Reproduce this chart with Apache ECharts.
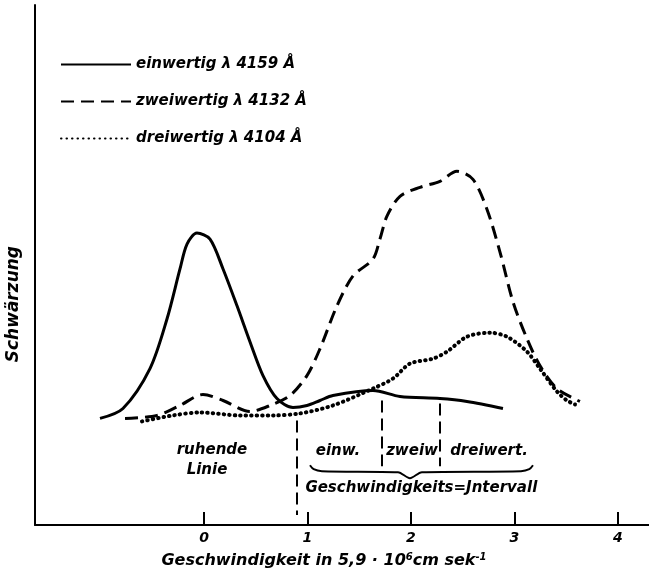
<!DOCTYPE html>
<html><head><meta charset="utf-8">
<script src="https://cdn.jsdelivr.net/npm/echarts@6/dist/echarts.min.js"></script>
<style>html,body{margin:0;padding:0;background:#fff}#c{width:649px;height:574px}</style>
</head><body><div id="c"></div>
<script>
// x in units of 5.9·10^6 cm/s, y = Schwärzung (arbitrary units)
const einX = [-1.005,-0.783,-0.522,-0.357,-0.232,-0.164,-0.068,0.058,0.184,0.319,0.444,0.570,0.705,0.860,0.995,1.121,1.246,1.633,1.894,2.280,2.541,2.889];
const einY = [107,117,157,207,257,282,293,287,257,220,184,150,127,118,120,125,130,135,129,127,124,117];
const zweiX = [-0.763,-0.454,-0.232,-0.010,0.184,0.444,0.638,0.831,0.995,1.121,1.285,1.440,1.633,1.700,1.768,1.894,2.087,2.280,2.444,2.599,2.734,2.860,2.986,3.121,3.246,3.411,3.633];
const zweiY = [107,110,120,131,125,114,120,130,150,177,220,250,267,287,310,330,339,345,355,347,317,274,224,187,160,137,124];
const dreiX = [-0.599,-0.300,-0.039,0.348,0.667,0.928,1.246,1.633,1.826,1.990,2.213,2.348,2.541,2.763,2.928,3.121,3.246,3.411,3.507,3.585];
const dreiY = [104,110,113,110,110,112,120,137,147,162,167,174,189,193,189,174,157,134,125,121];
const xTicks = [0,1,2,3,4];
const seriesNames = ['einwertig \u03BB 4159 \u00C5','zweiwertig \u03BB 4132 \u00C5','dreiwertig \u03BB 4104 \u00C5'];
const notes = [
  {x:0.077,y:75,t:'ruhende'},{x:0.029,y:55,t:'Linie'},
  {x:1.295,y:74,t:'einw.'},{x:2.01,y:74,t:'zweiw'},{x:2.754,y:74,t:'dreiwert.'},
  {x:2.10,y:37,t:'Geschwindigkeits=Jntervall'}];
const braceX = [1.024,1.060,1.140,1.874,1.990,2.106,3.063,3.143,3.179];
const braceY = [60,56,54,53,47,53,54,56,60];
const dividers = [[0.90,105,10],[1.72,125,59],[2.28,122,59]];

const zip = (a,b)=>a.map((v,i)=>[v,b[i]]);
const FONT = 'DejaVu Sans';
const TXT = {fontFamily:FONT,fontStyle:'italic',fontWeight:'bold',color:'#000'};
const chart = echarts.init(document.getElementById('c'));
chart.setOption({
  backgroundColor:'#fff',
  animation:false,
  grid:{left:35,right:0,top:5,bottom:47},
  legend:{left:55,top:52,orient:'vertical',itemWidth:70,itemHeight:14,itemGap:22,
    data:seriesNames,itemStyle:{opacity:0},
    textStyle:Object.assign({fontSize:15,padding:[0,0,0,0]},TXT)},
  xAxis:{type:'value',min:-1.633,max:4.3,
    axisLine:{onZero:false,lineStyle:{color:'#000',width:2}},
    axisTick:{show:true,inside:true,length:13,customValues:xTicks,lineStyle:{color:'#000',width:2}},
    axisLabel:Object.assign({customValues:xTicks,fontSize:14,margin:6},TXT),
    splitLine:{show:false},
    name:'Geschwindigkeit in 5,9 \u00B7 10{sup|6}cm sek{sup|-1}',
    nameLocation:'middle',nameGap:27,
    nameTextStyle:Object.assign({fontSize:16,padding:[0,36,0,0],
      rich:{sup:Object.assign({fontSize:10,verticalAlign:'top',padding:[0,0,8,0]},TXT)}},TXT)},
  yAxis:{type:'value',min:0,max:522,
    axisLine:{show:true,onZero:false,lineStyle:{color:'#000',width:2}},
    axisTick:{show:false},axisLabel:{show:false},splitLine:{show:false}},
  graphic:[{type:'text',left:5,top:246,rotation:Math.PI/2,
    style:{text:'Schw\u00E4rzung',fontFamily:FONT,fontStyle:'italic',fontWeight:'bold',fontSize:17,fill:'#000'}}],
  series:[
    {name:seriesNames[0],type:'line',data:zip(einX,einY),smooth:0.3,symbol:'none',
      itemStyle:{color:'#000'},lineStyle:{color:'#000',width:3}},
    {name:seriesNames[1],type:'line',data:zip(zweiX,zweiY),smooth:0.3,symbol:'none',
      itemStyle:{color:'#000'},lineStyle:{color:'#000',width:3,type:[13,7]}},
    {name:seriesNames[2],type:'line',data:zip(dreiX,dreiY),smooth:0.3,symbol:'none',
      itemStyle:{color:'#000'},lineStyle:{color:'#000',width:4,type:[0.5,5],cap:'round'}},
    {name:'brace',type:'line',data:zip(braceX,braceY),smooth:0.3,symbol:'none',
      itemStyle:{color:'#000'},lineStyle:{color:'#000',width:2}},
    {name:'notes',type:'scatter',symbolSize:0,itemStyle:{opacity:1,color:'#000'},
      data:notes.map(n=>({value:[n.x,n.y],name:n.t})),
      label:Object.assign({show:true,position:'inside',formatter:p=>p.name,fontSize:15},TXT),
      markLine:{silent:true,symbol:'none',label:{show:false},
        lineStyle:{color:'#000',width:2,type:[12,6]},
        data:dividers.map(d=>[{coord:[d[0],d[1]]},{coord:[d[0],d[2]]}])}}
  ]
});
</script></body></html>
